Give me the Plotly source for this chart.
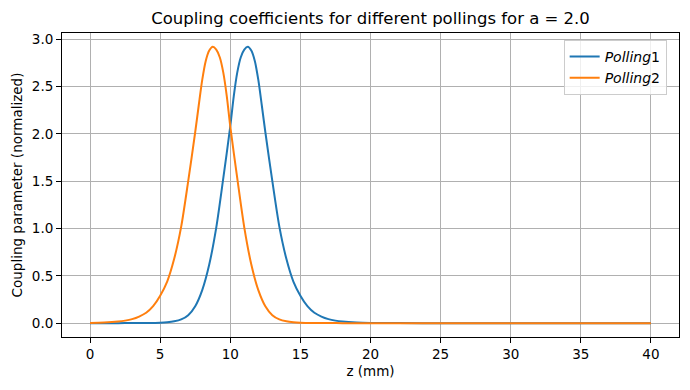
import plotly.graph_objects as go

# Polling 1 (blue)
z1 = [0, 1, 2, 3, 4, 5, 5.5, 6, 6.5, 7, 7.5, 8, 8.5, 9, 9.5, 10, 10.25, 10.5, 10.75, 11, 11.25,
      11.5, 11.75, 12, 12.25, 12.5, 13, 13.5, 14, 14.5, 15, 15.5, 16, 16.5, 17, 17.5, 18, 19, 20,
      22, 25, 30, 35, 40]
c1 = [0, 0, 0.0005, 0.001, 0.002, 0.005, 0.01, 0.02, 0.04, 0.085, 0.18, 0.35, 0.62, 1.01, 1.53,
      2.08, 2.40, 2.65, 2.81, 2.89, 2.92, 2.88, 2.77, 2.57, 2.30, 2.02, 1.50, 1.02, 0.68, 0.44,
      0.29, 0.18, 0.11, 0.07, 0.043, 0.027, 0.017, 0.007, 0.003, 0.001, 0, 0, 0, 0]

# Polling 2 (orange)
z2 = [0, 1, 2, 2.5, 3, 3.5, 4, 4.5, 5, 5.5, 6, 6.5, 7, 7.5, 7.75, 8, 8.25, 8.5, 8.75, 9, 9.25,
      9.5, 9.75, 10, 10.5, 11, 11.5, 12, 12.5, 13, 13.5, 14, 14.5, 15, 16, 17, 18, 20, 25, 30, 35, 40]
c2 = [0.003, 0.007, 0.017, 0.027, 0.043, 0.07, 0.11, 0.18, 0.29, 0.44, 0.68, 1.02, 1.50, 2.02,
      2.30, 2.57, 2.77, 2.88, 2.92, 2.89, 2.81, 2.65, 2.40, 2.08, 1.53, 1.01, 0.62, 0.35, 0.18,
      0.085, 0.04, 0.02, 0.01, 0.005, 0.002, 0.001, 0.0005, 0, 0, 0, 0, 0]

x_ticks = [0, 5, 10, 15, 20, 25, 30, 35, 40]
y_ticks = [0.0, 0.5, 1.0, 1.5, 2.0, 2.5, 3.0]

FONT = "DejaVu Sans"
W, H = 682, 382  # page body has an 8px default margin

fig = go.Figure()
fig.add_trace(go.Scatter(x=z1, y=c1, mode="lines", name="<i>Polling</i>1",
                         line=dict(color="#1f77b4", width=2, shape="spline", smoothing=0.8)))
fig.add_trace(go.Scatter(x=z2, y=c2, mode="lines", name="<i>Polling</i>2",
                         line=dict(color="#ff7f0e", width=2, shape="spline", smoothing=0.8)))

axis_common = dict(showline=True, linecolor="black", linewidth=1, mirror=True,
                   ticks="outside", ticklen=5, tickcolor="black", tickwidth=1,
                   showgrid=True, gridcolor="#b0b0b0", gridwidth=1, zeroline=False,
                   automargin=False,
                   tickfont=dict(family=FONT, size=13.5, color="black"))

fig.update_layout(
    width=W, height=H,
    margin=dict(l=54, r=11, t=25, b=53),
    paper_bgcolor="white", plot_bgcolor="white",
    font=dict(family=FONT, size=13.5, color="black"),
    title=dict(text="Coupling coefficients for different pollings for a = 2.0",
               x=(54 + 671) / 2 / W, xanchor="center", y=1 - 10 / H, yanchor="middle",
               font=dict(family=FONT, size=16.5, color="black")),
    xaxis=dict(range=[-2, 42], tickvals=x_ticks, ticktext=[str(v) for v in x_ticks],
               title=dict(text="z (mm)", font=dict(family=FONT, size=13.5), standoff=5),
               **axis_common),
    yaxis=dict(range=[-0.146, 3.066], tickvals=y_ticks, ticktext=[f"{v:.1f}" for v in y_ticks],
               title=dict(text="Coupling parameter (normalized)", font=dict(family=FONT, size=13.5), standoff=6),
               **axis_common),
    legend=dict(x=0.98, y=0.977, xanchor="right", yanchor="top",
                bgcolor="rgba(255,255,255,0.8)", bordercolor="#cccccc", borderwidth=1,
                font=dict(family=FONT, size=14, color="black"), tracegroupgap=2),
    showlegend=True,
)

fig.write_html("out.html")
